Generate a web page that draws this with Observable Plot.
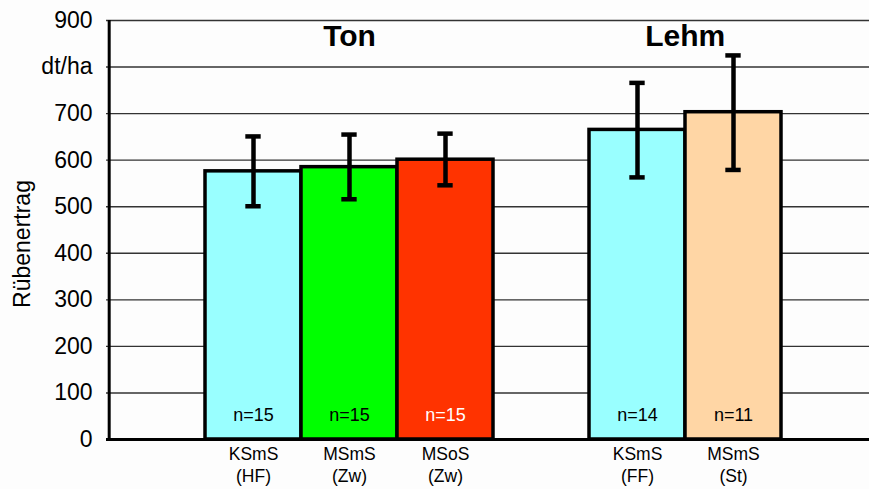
<!DOCTYPE html>
<html>
<head>
<meta charset="utf-8">
<script src="https://cdn.jsdelivr.net/npm/d3@7"></script>
<script src="https://cdn.jsdelivr.net/npm/@observablehq/plot@0.6"></script>
<style>
  html, body { margin: 0; padding: 0; background: #fdfdfd; }
</style>
</head>
<body>
<div id="chart"></div>
<script>
// ---- data ----
const slots = ["_a", "KSmS\n(HF)", "MSmS\n(Zw)", "MSoS\n(Zw)", "_b", "KSmS\n(FF)", "MSmS\n(St)", "_c"];
const categories = ["KSmS\n(HF)", "MSmS\n(Zw)", "MSoS\n(Zw)", "KSmS\n(FF)", "MSmS\n(St)"];
const values = [576, 585, 601, 665, 703];
const errLow = [501, 516, 546, 563, 579];
const errHigh = [651, 655, 657, 766, 825];
const nLabels = ["n=15", "n=15", "n=15", "n=14", "n=11"];
const fills = ["#99ffff", "#00ff00", "#ff3300", "#99ffff", "#ffd6a5"];
const nColors = ["#000", "#000", "#fff", "#000", "#000"];
const yTicks = [0, 100, 200, 300, 400, 500, 600, 700, 800, 900];
const yTickLabels = ["0", "100", "200", "300", "400", "500", "600", "700", "dt/ha", "900"];
const groupTitles = ["Ton", "Lehm"];
const groupAt = ["MSmS\n(Zw)", "MSmS\n(St)"];

const data = categories.map((c, i) => ({
  cat: c, value: values[i], lo: errLow[i], hi: errHigh[i],
  n: nLabels[i], fill: fills[i], ncol: nColors[i]
}));

const W = 869, H = 489, mL = 106, mR = 0, mT = 20, mB = 50;
const xRange = [mL, 879];
const bw = (xRange[1] - xRange[0]) / slots.length;
const capInset = (bw - 16) / 2;

const chart = Plot.plot({
  width: W, height: H,
  marginLeft: mL, marginRight: mR, marginTop: mT, marginBottom: mB,
  style: {fontFamily: "Arial, 'Liberation Sans', sans-serif", background: "#fdfdfd", color: "#000"},
  x: {domain: slots, range: xRange, padding: 0, axis: null},
  y: {domain: [0, 900], axis: null},
  color: {type: "identity"},
  marks: [
    Plot.ruleY(yTicks, {stroke: "#333", strokeWidth: 1.4}),
    Plot.axisY({ticks: yTicks, tickFormat: d => yTickLabels[yTicks.indexOf(d)], tickSize: 0, tickPadding: 14, fontSize: 23, label: null}),
    Plot.text(["Rübenertrag"], {frameAnchor: "left", textAnchor: "middle", rotate: -90, dx: -84, dy: 14, fontSize: 23}),
    Plot.barY(data, {x: "cat", y: "value", fill: "fill", stroke: "#000", strokeWidth: 3.5}),
    Plot.ruleX(data, {x: "cat", y1: "lo", y2: "hi", stroke: "#000", strokeWidth: 4.5}),
    Plot.tickY(data, {x: "cat", y: "lo", stroke: "#000", strokeWidth: 4.5, insetLeft: capInset, insetRight: capInset}),
    Plot.tickY(data, {x: "cat", y: "hi", stroke: "#000", strokeWidth: 4.5, insetLeft: capInset, insetRight: capInset}),
    Plot.text(data, {x: "cat", text: "n", fill: "ncol", frameAnchor: "bottom", lineAnchor: "bottom", dy: -19, fontSize: 18}),
    Plot.ruleY([0], {stroke: "#000", strokeWidth: 3}),
    Plot.ruleX(["_a"], {x: d => d, dx: -bw / 2, stroke: "#000", strokeWidth: 3}),
    Plot.axisX({ticks: categories, tickSize: 0, tickPadding: 5, fontSize: 17.5, lineHeight: 1.25, label: null}),
    Plot.text([groupTitles[0]], {x: () => groupAt[0], text: d => d, frameAnchor: "top", lineAnchor: "top", dy: 4, fontSize: 30, fontWeight: "bold"}),
    Plot.text([groupTitles[1]], {x: () => groupAt[1], text: d => d, dx: -bw / 2, frameAnchor: "top", lineAnchor: "top", dy: 4, fontSize: 30, fontWeight: "bold"})
  ]
});
document.getElementById("chart").appendChild(chart);
</script>
</body>
</html>
